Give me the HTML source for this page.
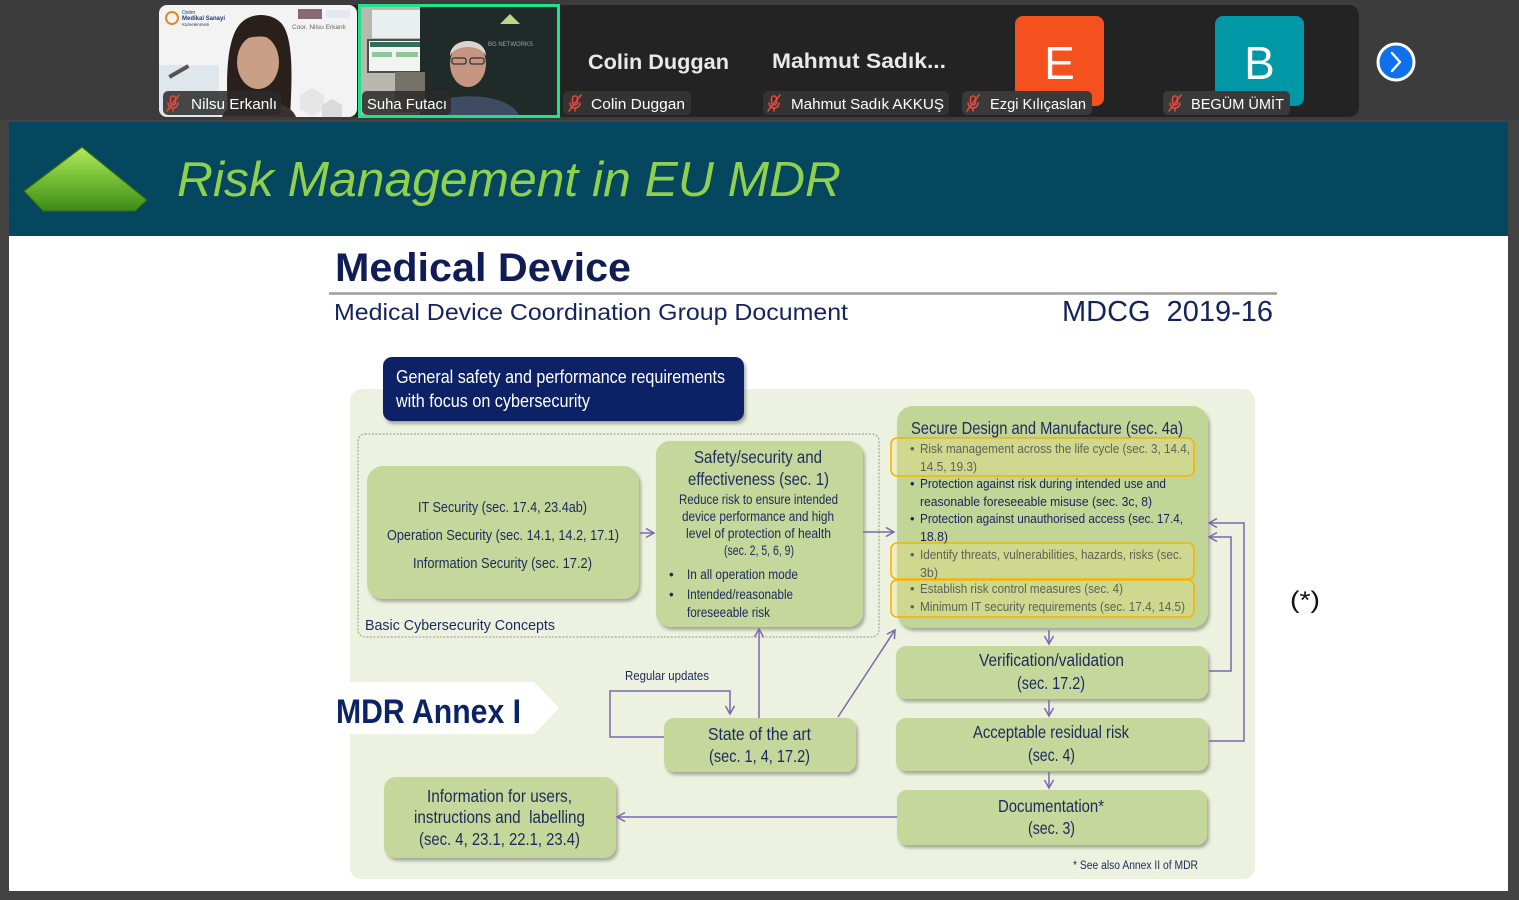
<!DOCTYPE html>
<html>
<head>
<meta charset="utf-8">
<style>
  html,body{margin:0;padding:0;background:#434343;}
  body{width:1519px;height:900px;overflow:hidden;}
  svg{display:block;}
  text{font-family:"Liberation Sans","DejaVu Sans",sans-serif;}
</style>
</head>
<body>
<svg width="1519" height="900" viewBox="0 0 1519 900" xmlns="http://www.w3.org/2000/svg">
  <defs>
    <linearGradient id="pent" x1="0" y1="0" x2="0" y2="1">
      <stop offset="0" stop-color="#b2ea5a"/>
      <stop offset="0.55" stop-color="#6fb932"/>
      <stop offset="1" stop-color="#3f8a18"/>
    </linearGradient>
    <filter id="sh" x="-10%" y="-10%" width="130%" height="140%">
      <feDropShadow dx="2" dy="3" stdDeviation="1.6" flood-color="#6b705e" flood-opacity="0.55"/>
    </filter>
    <marker id="ar" markerUnits="userSpaceOnUse" markerWidth="12" markerHeight="12" refX="9" refY="5" orient="auto">
      <path d="M1,0.5 L9,5 L1,9.5" fill="none" stroke="#7b68ab" stroke-width="1.5"/>
    </marker>
  </defs>

  <!-- outer background -->
  <rect x="0" y="0" width="1519" height="900" fill="#434343"/>
  <rect x="0" y="0" width="1519" height="120" fill="#3c3c3c"/>

  <!-- participant strip -->
  <rect x="159" y="5" width="1200" height="112" rx="10" fill="#232323"/>

  <!-- tile 1 : Nilsu -->
  <g>
    <clipPath id="c1"><rect x="159" y="5" width="198" height="112" rx="8"/></clipPath>
    <g clip-path="url(#c1)">
      <rect x="159" y="5" width="198" height="112" fill="#f3f3f3"/>
      <rect x="159" y="65" width="60" height="52" fill="#dfe6ec"/>
      <path d="M300 95 l12 -7 l12 7 v14 l-12 7 l-12 -7z" fill="#e6e6e6"/>
      <path d="M322 105 l10 -6 l10 6 v12 l-10 6 l-10 -6z" fill="#dadada"/>
      <!-- logos -->
      <circle cx="172" cy="18" r="6" fill="none" stroke="#e08a2a" stroke-width="2"/>
      <text x="182" y="14" font-size="5" fill="#1e3c7a">Ostim</text>
      <text x="182" y="20" font-size="6" font-weight="bold" fill="#1e3c7a">Medikal Sanayi</text>
      <text x="182" y="26" font-size="4.5" fill="#1e3c7a">Kümelenmesi</text>
      <rect x="298" y="9" width="24" height="10" fill="#8a6a72"/>
      <rect x="326" y="10" width="24" height="8" fill="#e4e8f2"/>
      <text x="292" y="29" font-size="6.5" fill="#666">Coor. Nilsu Erkanlı</text>
      <!-- person -->
      <path d="M228 117 C226 80 226 40 240 24 C250 12 272 12 282 24 C294 40 292 80 290 117 Z" fill="#2a201b"/>
      <ellipse cx="258" cy="62" rx="21" ry="27" fill="#c99f87"/>
      <path d="M236 44 C240 24 276 22 282 44 C272 34 248 34 236 44 Z" fill="#2a201b"/>
      <path d="M222 117 C228 95 288 95 296 117 Z" fill="#3b302b"/>
      <rect x="168" y="70" width="22" height="4" fill="#555" transform="rotate(-30 178 72)"/>
    </g>
  </g>

  <!-- tile 2 : Suha -->
  <g>
    <clipPath id="c2"><rect x="358" y="4" width="202" height="114"/></clipPath>
    <g clip-path="url(#c2)">
      <rect x="358" y="4" width="202" height="114" fill="#cfcfcb"/>
      <rect x="358" y="4" width="70" height="114" fill="#b9b8ae"/>
      <rect x="372" y="10" width="50" height="28" fill="#e9eef0"/>
      <rect x="368" y="40" width="56" height="32" fill="#f2f4f2" stroke="#4a4f4f" stroke-width="2"/>
      <rect x="370" y="42" width="52" height="5" fill="#2f6f5a"/>
      <rect x="372" y="52" width="20" height="5" fill="#8fc79a"/>
      <rect x="396" y="52" width="22" height="5" fill="#8fc79a"/>
      <rect x="420" y="6" width="140" height="112" fill="#1f2a29"/>
      <path d="M500 24 l10 -10 l10 10 z" fill="#b8d98a"/>
      <text x="488" y="46" font-size="6" fill="#9aa6a2">BG NETWORKS</text>
      <rect x="395" y="72" width="30" height="40" fill="#777268"/>
      <!-- man -->
      <path d="M420 118 C425 90 512 88 520 118 Z" fill="#3f4b63"/>
      <ellipse cx="468" cy="64" rx="18" ry="23" fill="#c69683"/>
      <path d="M450 56 C450 36 486 36 486 56 C480 44 456 44 450 56 Z" fill="#d9d4cc"/>
      <rect x="452" y="58" width="14" height="6" rx="2" fill="none" stroke="#333" stroke-width="1.3"/>
      <rect x="470" y="58" width="14" height="6" rx="2" fill="none" stroke="#333" stroke-width="1.3"/>
    </g>
    <rect x="359.5" y="5.5" width="199" height="111" fill="none" stroke="#1ee38b" stroke-width="3"/>
  </g>

  <!-- big names -->
  <text x="588" y="69" font-size="21" font-weight="bold" fill="#e9e9e9" textLength="141" lengthAdjust="spacingAndGlyphs">Colin Duggan</text>
  <text x="772" y="68" font-size="21" font-weight="bold" fill="#e9e9e9" textLength="174" lengthAdjust="spacingAndGlyphs">Mahmut  Sadık...</text>

  <!-- avatar tiles -->
  <rect x="1015" y="16" width="89" height="90" rx="8" fill="#f4511e"/>
  <text x="1059.5" y="79" font-size="46" fill="#ffffff" text-anchor="middle">E</text>
  <rect x="1215" y="16" width="89" height="90" rx="8" fill="#0097a7"/>
  <text x="1259.5" y="79" font-size="46" fill="#ffffff" text-anchor="middle">B</text>

  <!-- name labels -->
  <g font-size="15" fill="#ffffff">
    <rect x="163" y="91" width="118" height="24" rx="5" fill="#2a2a2a" fill-opacity="0.85"/>
    <rect x="362" y="91" width="89" height="24" rx="5" fill="#2a2a2a" fill-opacity="0.85"/>
    <rect x="563" y="91" width="128" height="24" rx="5" fill="#333"/>
    <rect x="763" y="91" width="186" height="24" rx="5" fill="#333"/>
    <rect x="962" y="91" width="130" height="24" rx="5" fill="#3a3a3a"/>
    <rect x="1163" y="91" width="127" height="24" rx="5" fill="#3a3a3a"/>
    <text x="191" y="109" textLength="86" lengthAdjust="spacingAndGlyphs">Nilsu Erkanlı</text>
    <text x="367" y="109" textLength="80" lengthAdjust="spacingAndGlyphs">Suha Futacı</text>
    <text x="591" y="109" textLength="94" lengthAdjust="spacingAndGlyphs">Colin Duggan</text>
    <text x="791" y="109" textLength="153" lengthAdjust="spacingAndGlyphs">Mahmut Sadık AKKUŞ</text>
    <text x="990" y="109" textLength="96" lengthAdjust="spacingAndGlyphs">Ezgi Kılıçaslan</text>
    <text x="1191" y="109" textLength="93" lengthAdjust="spacingAndGlyphs">BEGÜM ÜMİT</text>
  </g>
  <!-- muted mic icons -->
  <g stroke="#e5483d" stroke-width="1.6" fill="none" stroke-linecap="round">
    <g transform="translate(173,103)"><rect x="-2.5" y="-7" width="5" height="9" rx="2.5"/><path d="M-5,0 a5,5 0 0 0 10,0 M0,5 v3"/><path d="M-6,8 L6,-8"/></g>
    <g transform="translate(575,103)"><rect x="-2.5" y="-7" width="5" height="9" rx="2.5"/><path d="M-5,0 a5,5 0 0 0 10,0 M0,5 v3"/><path d="M-6,8 L6,-8"/></g>
    <g transform="translate(774,103)"><rect x="-2.5" y="-7" width="5" height="9" rx="2.5"/><path d="M-5,0 a5,5 0 0 0 10,0 M0,5 v3"/><path d="M-6,8 L6,-8"/></g>
    <g transform="translate(973,103)"><rect x="-2.5" y="-7" width="5" height="9" rx="2.5"/><path d="M-5,0 a5,5 0 0 0 10,0 M0,5 v3"/><path d="M-6,8 L6,-8"/></g>
    <g transform="translate(1175,103)"><rect x="-2.5" y="-7" width="5" height="9" rx="2.5"/><path d="M-5,0 a5,5 0 0 0 10,0 M0,5 v3"/><path d="M-6,8 L6,-8"/></g>
  </g>

  <!-- next arrow button -->
  <circle cx="1396" cy="62" r="18" fill="#0e71eb" stroke="#ffffff" stroke-width="3"/>
  <path d="M1392 53 L1400 62 L1392 71" fill="none" stroke="#ffffff" stroke-width="2.4" stroke-linecap="round" stroke-linejoin="round"/>

  <!-- ============ SLIDE ============ -->
  <rect x="9" y="122" width="1499" height="769" fill="#ffffff"/>
  <rect x="9" y="122" width="1499" height="114" fill="#05475f"/>
  <polygon points="82,147 24,191 43,211 135,211 147,200" fill="url(#pent)" stroke="#2f6b12" stroke-width="1.2"/>
  <text x="177" y="196" font-size="49" font-style="italic" fill="#8fd14f" textLength="664" lengthAdjust="spacingAndGlyphs">Risk Management in EU MDR</text>

  <text x="335" y="281" font-size="40" font-weight="bold" fill="#0f1c56" textLength="296" lengthAdjust="spacingAndGlyphs">Medical Device</text>
  <line x1="329" y1="293.5" x2="1277" y2="293.5" stroke="#9d9d9d" stroke-width="2.5"/>
  <text x="334" y="320" font-size="23.5" fill="#14235e" textLength="514" lengthAdjust="spacingAndGlyphs">Medical Device Coordination Group Document</text>
  <text x="1062" y="321" font-size="29" fill="#14235e" textLength="211" lengthAdjust="spacingAndGlyphs" style="white-space:pre">MDCG  2019-16</text>

  <text x="1290" y="608" font-size="24" fill="#111" textLength="30" lengthAdjust="spacingAndGlyphs">(*)</text>

  <!-- diagram panel -->
  <rect x="350" y="389" width="905" height="490" rx="12" fill="#edf1e0"/>

  <!-- MDR Annex pennant -->
  <polygon points="330,682 534,682 559,708 534,734 330,734" fill="#ffffff"/>
  <text x="336" y="723" font-size="34" font-weight="bold" fill="#0c2366" textLength="185" lengthAdjust="spacingAndGlyphs">MDR Annex I</text>

  <!-- navy header box -->
  <rect x="383" y="357" width="361" height="64" rx="9" fill="#0c2366" filter="url(#sh)"/>
  <g font-size="18" fill="#ffffff">
    <text x="396" y="383" textLength="329" lengthAdjust="spacingAndGlyphs">General safety and performance requirements</text>
    <text x="396" y="407" textLength="194" lengthAdjust="spacingAndGlyphs">with focus on cybersecurity</text>
  </g>

  <!-- dashed group -->
  <rect x="358" y="434" width="521" height="203" rx="7" fill="none" stroke="#a4a69c" stroke-width="1.2" stroke-dasharray="2 1.5"/>
  <text x="365" y="630" font-size="14.5" fill="#1b2a5c" textLength="190" lengthAdjust="spacingAndGlyphs">Basic Cybersecurity Concepts</text>

  <!-- boxes -->
  <g fill="#c5d79b" filter="url(#sh)">
    <rect x="367" y="466" width="272" height="133" rx="16"/>
    <rect x="656" y="441" width="207" height="186" rx="14"/>
    <rect x="897" y="406" width="311" height="222" rx="16" fill="#c1d597"/>
    <rect x="896" y="646" width="312" height="53" rx="10"/>
    <rect x="896" y="718" width="312" height="53" rx="10"/>
    <rect x="897" y="790" width="310" height="55" rx="10"/>
    <rect x="664" y="718" width="192" height="54" rx="10"/>
    <rect x="384" y="777" width="232" height="81" rx="12"/>
  </g>

  <!-- yellow highlight boxes -->
  <g fill="#f4e27a" fill-opacity="0.28" stroke="#f5b400" stroke-width="1.6">
    <rect x="891" y="438" width="303" height="38" rx="6"/>
    <rect x="891" y="543" width="303" height="36" rx="6"/>
    <rect x="891" y="580" width="303" height="37" rx="6"/>
  </g>

  <!-- Box A text -->
  <g font-size="14.5" fill="#1b2a5c">
    <text x="418" y="512" textLength="169" lengthAdjust="spacingAndGlyphs">IT Security (sec. 17.4, 23.4ab)</text>
    <text x="387" y="540" textLength="232" lengthAdjust="spacingAndGlyphs">Operation Security (sec. 14.1, 14.2, 17.1)</text>
    <text x="413" y="568" textLength="179" lengthAdjust="spacingAndGlyphs">Information Security (sec. 17.2)</text>
  </g>

  <!-- Box B text -->
  <g fill="#1b2a5c">
    <text x="694" y="463" font-size="17.5" textLength="128" lengthAdjust="spacingAndGlyphs">Safety/security and</text>
    <text x="688" y="485" font-size="17.5" textLength="141" lengthAdjust="spacingAndGlyphs">effectiveness (sec. 1)</text>
    <g font-size="13.5">
      <text x="679" y="504" textLength="159" lengthAdjust="spacingAndGlyphs">Reduce risk to ensure intended</text>
      <text x="682" y="521" textLength="152" lengthAdjust="spacingAndGlyphs">device performance and high</text>
      <text x="686" y="538" textLength="145" lengthAdjust="spacingAndGlyphs">level of protection of health</text>
      <text x="724" y="555" textLength="70" lengthAdjust="spacingAndGlyphs">(sec. 2, 5, 6, 9)</text>
      <text x="669" y="579">•</text>
      <text x="687" y="579" textLength="111" lengthAdjust="spacingAndGlyphs">In all operation mode</text>
      <text x="669" y="599">•</text>
      <text x="687" y="599" textLength="106" lengthAdjust="spacingAndGlyphs">Intended/reasonable</text>
      <text x="687" y="617" textLength="83" lengthAdjust="spacingAndGlyphs">foreseeable risk</text>
    </g>
  </g>

  <!-- Secure design text -->
  <text x="911" y="434" font-size="17.5" fill="#1b2a5c" textLength="272" lengthAdjust="spacingAndGlyphs">Secure Design and Manufacture (sec. 4a)</text>
  <g font-size="13">
    <g fill="#5e6252">
      <text x="910" y="453">•</text>
      <text x="920" y="453" textLength="270" lengthAdjust="spacingAndGlyphs">Risk management across the life cycle (sec. 3, 14.4,</text>
      <text x="920" y="471" textLength="57" lengthAdjust="spacingAndGlyphs">14.5, 19.3)</text>
      <text x="910" y="559">•</text>
      <text x="920" y="559" textLength="262" lengthAdjust="spacingAndGlyphs">Identify threats, vulnerabilities, hazards, risks (sec.</text>
      <text x="920" y="577" textLength="18" lengthAdjust="spacingAndGlyphs">3b)</text>
      <text x="910" y="593">•</text>
      <text x="920" y="593" textLength="203" lengthAdjust="spacingAndGlyphs">Establish risk control measures (sec. 4)</text>
      <text x="910" y="611">•</text>
      <text x="920" y="611" textLength="265" lengthAdjust="spacingAndGlyphs">Minimum IT security requirements (sec. 17.4, 14.5)</text>
    </g>
    <g fill="#14235a">
      <text x="910" y="488">•</text>
      <text x="920" y="488" textLength="246" lengthAdjust="spacingAndGlyphs">Protection against risk during intended use and</text>
      <text x="920" y="506" textLength="232" lengthAdjust="spacingAndGlyphs">reasonable foreseeable misuse (sec. 3c, 8)</text>
      <text x="910" y="523">•</text>
      <text x="920" y="523" textLength="263" lengthAdjust="spacingAndGlyphs">Protection against unauthorised access (sec. 17.4,</text>
      <text x="920" y="541" textLength="28" lengthAdjust="spacingAndGlyphs">18.8)</text>
    </g>
  </g>

  <!-- right column texts -->
  <g font-size="17.5" fill="#1b2a5c">
    <text x="979" y="666" textLength="145" lengthAdjust="spacingAndGlyphs">Verification/validation</text>
    <text x="1017" y="689" textLength="68" lengthAdjust="spacingAndGlyphs">(sec. 17.2)</text>
    <text x="973" y="738" textLength="156" lengthAdjust="spacingAndGlyphs">Acceptable residual risk</text>
    <text x="1028" y="761" textLength="47" lengthAdjust="spacingAndGlyphs">(sec. 4)</text>
    <text x="998" y="812" textLength="106" lengthAdjust="spacingAndGlyphs">Documentation*</text>
    <text x="1028" y="834" textLength="47" lengthAdjust="spacingAndGlyphs">(sec. 3)</text>
    <!-- info box -->
    <text x="427" y="802" textLength="145" lengthAdjust="spacingAndGlyphs">Information for users,</text>
    <text x="414" y="823" textLength="171" lengthAdjust="spacingAndGlyphs" style="white-space:pre">instructions and  labelling</text>
    <text x="419" y="845" textLength="161" lengthAdjust="spacingAndGlyphs">(sec. 4, 23.1, 22.1, 23.4)</text>
    <!-- state of the art -->
    <text x="708" y="740" textLength="103" lengthAdjust="spacingAndGlyphs">State of the art</text>
    <text x="709" y="762" textLength="101" lengthAdjust="spacingAndGlyphs">(sec. 1, 4, 17.2)</text>
  </g>
  <text x="1073" y="869" font-size="11.5" fill="#1b2a5c" textLength="125" lengthAdjust="spacingAndGlyphs">* See also Annex II of MDR</text>
  <text x="625" y="680" font-size="12.5" fill="#1b2a5c" textLength="84" lengthAdjust="spacingAndGlyphs">Regular updates</text>

  <!-- connectors -->
  <g fill="none" stroke="#7b68ab" stroke-width="1.5" marker-end="url(#ar)">
    <line x1="640" y1="533" x2="654" y2="533"/>
    <line x1="863" y1="532" x2="894" y2="532"/>
    <line x1="1049" y1="630" x2="1049" y2="644"/>
    <line x1="1049" y1="700" x2="1049" y2="716"/>
    <line x1="1049" y1="772" x2="1049" y2="788"/>
    <line x1="897" y1="817" x2="617" y2="817"/>
    <polyline points="1209,671 1231,671 1231,537 1209,537"/>
    <polyline points="1209,741 1244,741 1244,523 1209,523"/>
    <line x1="759" y1="718" x2="759" y2="629"/>
    <line x1="838" y1="717" x2="895" y2="630"/>
    <polyline points="664,737 610,737 610,691 730,691 730,714"/>
  </g>
</svg>
</body>
</html>
